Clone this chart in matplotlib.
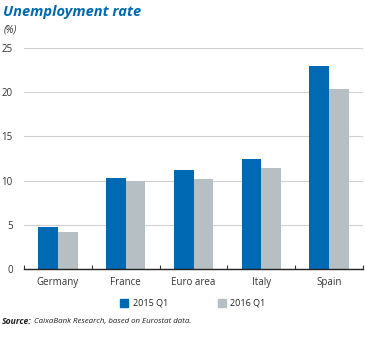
import matplotlib
matplotlib.use("Agg")
import matplotlib.pyplot as plt
import numpy as np
from matplotlib.patches import Rectangle

categories = ["Germany", "France", "Euro area", "Italy", "Spain"]
s2015 = [4.8, 10.3, 11.2, 12.4, 23.0]
s2016 = [4.2, 10.0, 10.2, 11.4, 20.4]
series_names = ["2015 Q1", "2016 Q1"]
yticks = [0, 5, 10, 15, 20, 25]

blue = "#0069B4"
grey = "#B5BFC4"
font = "Open Sans"

fig = plt.figure(figsize=(3.66, 3.38), dpi=100)
ax = fig.add_axes([24/366, 1-269/338, 339/366, 221/338])

x = np.arange(len(categories))
w = 0.29
ax.bar(x - w/2, s2015, w, color=blue, zorder=3)
ax.bar(x + w/2, s2016, w, color=grey, zorder=3)

ax.set_xlim(-0.5, len(categories) - 0.5)
ax.set_ylim(0, 25)
ax.set_yticks(yticks)
ax.set_yticklabels([str(t) for t in yticks], fontsize=7, family=font, color="#333333")
ax.yaxis.grid(True, color="#D0D0D0", linewidth=0.8, zorder=0)
ax.tick_params(axis="y", length=0, pad=8)
ax.set_xticks(x)
ax.set_xticklabels(categories, fontsize=7, family=font, color="#333333")
ax.tick_params(axis="x", length=0, pad=6)
ax.set_xticks(np.arange(-0.5, len(categories) + 0.5, 1), minor=True)
ax.tick_params(axis="x", which="minor", direction="in", length=3, color="#333333", width=0.8)
for s in ["top", "right", "left"]:
    ax.spines[s].set_visible(False)
ax.spines["bottom"].set_color("#222222")
ax.spines["bottom"].set_linewidth(1.0)
ax.spines["bottom"].set_zorder(4)

fig.text(3/366, 1-12/338, "Unemployment rate", fontsize=10.5, fontweight="bold",
         fontstyle="italic", color=blue, family=font, va="center", ha="left")
fig.text(4/366, 1-30/338, "(%)", fontsize=7, fontstyle="italic", color="#333333",
         family=font, va="center", ha="left")

# legend
for sx, tx, col, name in [(120, 133, blue, series_names[0]), (218, 230, grey, series_names[1])]:
    fig.patches.append(Rectangle((sx/366, 1-307/338), 8/366, 8/338,
                                 transform=fig.transFigure, color=col))
    fig.text(tx/366, 1-303/338, name, fontsize=6.5, family=font, color="#222222",
             va="center", ha="left")

fig.text(2/366, 1-322/338, "Source:", fontsize=6.2, fontweight="bold", fontstyle="italic",
         family=font, color="#222222", va="center", ha="left")
fig.text(34/366, 1-322/338, "CaixaBank Research, based on Eurostat data.", fontsize=5.7,
         fontstyle="italic", family=font, color="#222222", va="center", ha="left")

fig.savefig("out.png", dpi=100)
